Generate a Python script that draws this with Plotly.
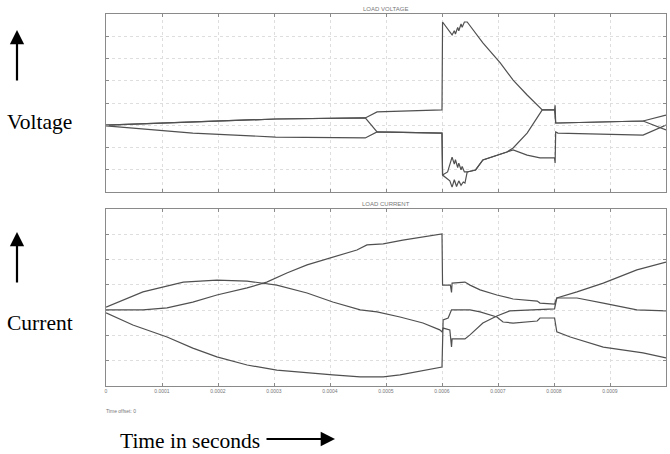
import plotly.graph_objects as go

# ---------------- data ----------------
# Load voltage, three phases (arbitrary units), time in seconds
va_t = [0, 0.000155, 0.000303, 0.000463, 0.000484, 0.0006, 0.000601, 0.000618, 0.000622, 0.000624,
        0.000628, 0.00063, 0.000634, 0.000636, 0.00064, 0.000645, 0.000673, 0.000704, 0.000727,
        0.000752, 0.000779, 0.000801, 0.000802, 0.000803, 0.000807, 0.000959, 0.001]
va_v = [-0.99, -0.85, -0.72, -0.67, -0.40, -0.31, 3.64, 3.06, 3.25, 3.10,
        3.40, 3.25, 3.55, 3.40, 3.64, 3.64, 2.70, 1.80, 1.03,
        0.36, -0.31, -0.31, -0.10, -0.90, -0.90, -0.81, -0.54]

vb_t = [0, 0.000155, 0.000303, 0.000463, 0.000484, 0.0006, 0.000601, 0.00061, 0.000618, 0.000622,
        0.000624, 0.000628, 0.00063, 0.000634, 0.000636, 0.00064, 0.000645, 0.00066, 0.000673,
        0.000716, 0.000727, 0.000752, 0.000779, 0.000801, 0.000803, 0.000807, 0.000959, 0.001]
vb_v = [-0.99, -0.85, -0.72, -0.67, -1.30, -1.35, -3.24, -3.10, -2.43, -2.75,
        -2.55, -2.90, -2.70, -3.00, -2.85, -3.10, -3.10, -3.01, -2.56,
        -2.20, -2.02, -1.35, -0.31, -0.31, -0.90, -0.90, -0.81, -1.21]

vc_t = [0, 0.000155, 0.000303, 0.000463, 0.000484, 0.0006, 0.000601, 0.000614, 0.000618, 0.000622,
        0.000626, 0.00063, 0.000634, 0.000638, 0.000641, 0.000645, 0.00066, 0.000673, 0.000716,
        0.000727, 0.000752, 0.000775, 0.000801, 0.000802, 0.000803, 0.000807, 0.000959, 0.001]
vc_v = [-1.03, -1.35, -1.53, -1.57, -1.30, -1.35, -3.24, -3.50, -3.78, -3.45,
        -3.75, -3.50, -3.70, -3.55, -3.60, -3.10, -3.01, -2.56, -2.20,
        -2.11, -2.34, -2.47, -2.47, -2.70, -1.30, -1.35, -1.44, -0.99]

# Load current, three phases (arbitrary units)
ia_t = [0, 0.000066, 0.000138, 0.000198, 0.000252, 0.000305, 0.000359, 0.000405, 0.000454,
        0.000484, 0.000525, 0.000566, 0.000596, 0.0006, 0.000602, 0.000614, 0.000617, 0.000618,
        0.000641, 0.00065, 0.000673, 0.000698, 0.000721, 0.000801, 0.000805, 0.000841, 0.000888,
        0.000948, 0.001]
ia_v = [-0.38, 0.22, 0.61, 0.69, 0.65, 0.49, 0.18, -0.18, -0.49,
        -0.57, -0.77, -1.01, -1.28, -1.36, -1.21, -1.28, -1.96, -1.64,
        -1.64, -1.48, -1.01, -0.73, -0.53, -0.45, -0.02, -0.02, -0.22,
        -0.49, -0.53]

ib_t = [0, 0.000066, 0.000109, 0.000155, 0.000198, 0.000252, 0.000287, 0.000323, 0.000359,
        0.000405, 0.000448, 0.000466, 0.000495, 0.00053, 0.0006, 0.000601, 0.000615, 0.000617,
        0.000618, 0.000641, 0.00065, 0.000668, 0.000698, 0.000727, 0.00077, 0.000775, 0.000801,
        0.000805, 0.000841, 0.000888, 0.000948, 0.001]
ib_v = [-0.49, -0.49, -0.41, -0.18, 0.10, 0.38, 0.61, 0.97, 1.29,
        1.60, 1.88, 2.08, 2.12, 2.27, 2.51, 0.49, 0.49, 0.20,
        0.57, 0.61, 0.49, 0.30, 0.10, -0.06, -0.14, -0.22, -0.26,
        -0.02, 0.22, 0.57, 1.09, 1.40]

ic_t = [0, 0.000048, 0.000109, 0.000155, 0.000198, 0.000252, 0.000305, 0.000359, 0.000405,
        0.000454, 0.000495, 0.000525, 0.0006, 0.000602, 0.000611, 0.000617, 0.00065, 0.000668,
        0.000698, 0.000709, 0.000727, 0.00077, 0.000775, 0.000801, 0.000805, 0.000829, 0.000888,
        0.000959, 0.001]
ic_v = [-0.61, -1.09, -1.56, -2.00, -2.35, -2.67, -2.87, -2.98, -3.06,
        -3.14, -3.14, -3.06, -2.75, -0.89, -0.81, -0.49, -0.49, -0.57,
        -0.77, -0.97, -1.01, -0.93, -0.81, -0.81, -1.36, -1.56, -1.96,
        -2.19, -2.39]

x_ticks = [0, 0.0001, 0.0002, 0.0003, 0.0004, 0.0005, 0.0006, 0.0007, 0.0008, 0.0009, 0.001]
x_tick_text = ["0", "0.0001", "0.0002", "0.0003", "0.0004", "0.0005", "0.0006", "0.0007",
               "0.0008", "0.0009", "0.001"]
v_ticks = [-3, -2, -1, 0, 1, 2, 3]
i_ticks = [-2.5, -1.5, -0.5, 0.5, 1.5, 2.5]

# ---------------- figure ----------------
W, H = 670, 454
line = dict(color="#505050", width=1.2)

fig = go.Figure()
for t, v in [(va_t, va_v), (vb_t, vb_v), (vc_t, vc_v)]:
    fig.add_trace(go.Scatter(x=t, y=v, mode="lines", line=line, xaxis="x", yaxis="y",
                             showlegend=False, hoverinfo="skip"))
for t, v in [(ia_t, ia_v), (ib_t, ib_v), (ic_t, ic_v)]:
    fig.add_trace(go.Scatter(x=t, y=v, mode="lines", line=line, xaxis="x2", yaxis="y2",
                             showlegend=False, hoverinfo="skip"))

def px_x(p):
    return p / W

def px_y(p):
    return 1 - p / H

axis_common = dict(showline=True, linecolor="#8a8a8a", linewidth=1, mirror="ticks",
                   ticks="inside", ticklen=3, tickcolor="#8a8a8a",
                   showgrid=True, gridcolor="#dedede", griddash="dot", gridwidth=1,
                   zeroline=False)

fig.update_layout(
    width=W, height=H, margin=dict(l=0, r=0, t=0, b=0),
    paper_bgcolor="white", plot_bgcolor="white",
    xaxis=dict(domain=[px_x(106), px_x(666)], range=[0, 0.001], tickvals=x_ticks,
               showticklabels=False, anchor="y", **axis_common),
    yaxis=dict(domain=[px_y(192), px_y(14)], range=[-4, 4], tickvals=v_ticks,
               showticklabels=False, anchor="x", **axis_common),
    xaxis2=dict(domain=[px_x(106), px_x(666)], range=[0, 0.001], tickvals=x_ticks,
                ticktext=x_tick_text, showticklabels=True, anchor="y2",
                tickfont=dict(family="Liberation Sans", size=5, color="#777777"),
                **axis_common),
    yaxis2=dict(domain=[px_y(386), px_y(209)], range=[-3.5, 3.5], tickvals=i_ticks,
                showticklabels=False, anchor="x2", **axis_common),
)

small = dict(family="Liberation Sans", size=6, color="#777777")
serif = dict(family="Liberation Serif", size=21.5, color="black")

annotations = [
    dict(x=px_x(386), y=px_y(9), text="LOAD VOLTAGE", font=small),
    dict(x=px_x(386), y=px_y(204), text="LOAD CURRENT", font=small),
    dict(x=px_x(104), y=px_y(411), text="Time offset: 0", font=dict(family="Liberation Sans", size=5, color="#777777"), xanchor="left"),
    dict(x=px_x(5), y=px_y(122), text="Voltage", font=serif, xanchor="left"),
    dict(x=px_x(5), y=px_y(323), text="Current", font=serif, xanchor="left"),
    dict(x=px_x(118), y=px_y(441), text="Time in seconds", font=serif, xanchor="left"),
]
for a in annotations:
    a.update(xref="paper", yref="paper", showarrow=False, yanchor="middle")
    a.setdefault("xanchor", "center")
    fig.add_annotation(**a)

arrows = [
    (px_x(17), px_y(30), 0, 52),
    (px_x(17), px_y(232), 0, 52),
    (px_x(335), px_y(439), -70, 0),
]
for x, y, ax, ay in arrows:
    fig.add_annotation(x=x, y=y, xref="paper", yref="paper", text="", showarrow=True,
                       ax=ax, ay=ay, arrowhead=2, arrowsize=1.3, arrowwidth=2.2,
                       arrowcolor="black")

fig.write_html("out.html")
